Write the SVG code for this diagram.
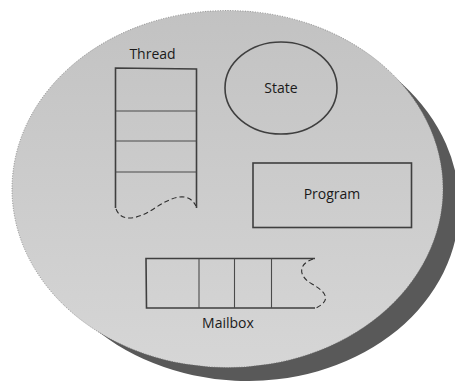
<svg xmlns="http://www.w3.org/2000/svg" width="455" height="381" viewBox="0 0 455 381">
<defs>
<linearGradient id="fill" x1="0" y1="0" x2="0" y2="1">
<stop offset="0" stop-color="#c2c2c2"/>
<stop offset="1" stop-color="#d6d6d6"/>
</linearGradient>
</defs>
<style>
.ln{fill:none;stroke:#3f3f3f;stroke-width:1.6}
.thin{fill:none;stroke:#4a4a4a;stroke-width:1.1}
.dash{fill:none;stroke:#2f2f2f;stroke-width:1.1;stroke-dasharray:5 3}
.lbl{font-family:"Open Sans","Liberation Sans",sans-serif;font-size:14px;fill:#1a1a1a;text-anchor:middle}
</style>
<g id="process">
<ellipse cx="227.5" cy="189" rx="215.5" ry="178.5" fill="#595959" transform="translate(16.3,13.4) rotate(2.86 227.5 189)"/>
<ellipse cx="227.5" cy="189" rx="215.5" ry="178.5" fill="url(#fill)" stroke="#6a6a6a" stroke-width="0.7" stroke-dasharray="1 1.5"/>
</g>
<g id="thread">
<path class="ln" d="M115.5,208 V68 L196.5,69 V208"/>
<path class="thin" d="M115.5,111 H196.5 M115.5,141 H196.5 M115.5,172 H196.5"/>
<path class="dash" d="M116,209 C122,224 140,218 155,208 C170,198 188,190 196,206"/>
<text class="lbl" x="152.5" y="59">Thread</text>
</g>
<g id="state">
<ellipse class="ln" cx="281" cy="88" rx="56" ry="46"/>
<text class="lbl" x="281" y="93">State</text>
</g>
<g id="program">
<rect class="ln" x="253" y="163" width="158.5" height="64.5"/>
<text class="lbl" x="332" y="199">Program</text>
</g>
<g id="mailbox">
<path class="ln" d="M315,258.5 H146 L146.5,308 H315"/>
<path class="thin" d="M199,258.5 V308 M234.5,258.5 V308 M271.5,258.5 V308"/>
<path class="dash" d="M313,259 C298,264 298,276 312,284 C326,292 332,300 316,308"/>
<text class="lbl" x="228" y="328">Mailbox</text>
</g>
<g id="connectors"></g>
</svg>
